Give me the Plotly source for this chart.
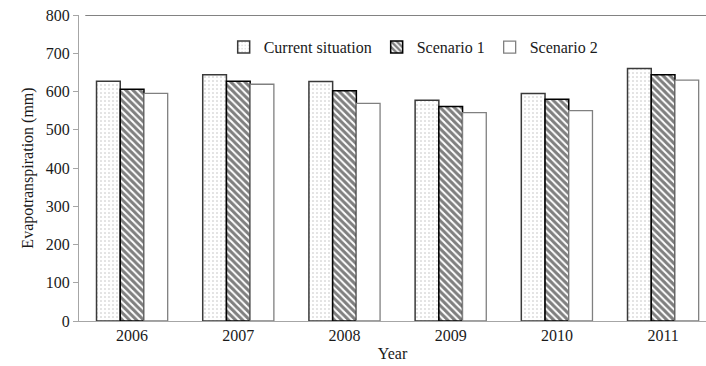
import plotly.graph_objects as go

years = ["2006", "2007", "2008", "2009", "2010", "2011"]
current = [627, 644, 626, 577, 595, 660]
scenario1 = [606, 627, 602, 561, 580, 644]
scenario2 = [595, 619, 569, 545, 550, 630]

FONT = "'Liberation Serif', 'Times New Roman', Tinos, 'DejaVu Serif', serif"

fig = go.Figure()
fig.add_trace(go.Bar(
    x=years, y=current, name="Current situation",
    marker=dict(color="white",
                line=dict(color="#3a3a3a", width=1.5),
                pattern=dict(shape=".", fgcolor="#7a7a7a", bgcolor="white",
                             size=4, solidity=0.12)),
))
fig.add_trace(go.Bar(
    x=years, y=scenario1, name="Scenario 1",
    marker=dict(color="white",
                line=dict(color="#000000", width=1.5),
                pattern=dict(shape="\\", fgcolor="#000000", bgcolor="white",
                             size=5, solidity=0.6)),
))
fig.add_trace(go.Bar(
    x=years, y=scenario2, name="Scenario 2",
    marker=dict(color="white", line=dict(color="#808080", width=1.3)),
))

fig.update_layout(
    width=706, height=366,
    margin=dict(l=79, r=0, t=15, b=45),
    paper_bgcolor="white", plot_bgcolor="white",
    barmode="group", bargap=0.33, bargroupgap=0,
    font=dict(family=FONT, size=16, color="#1a1a1a"),
    showlegend=True,
    legend=dict(orientation="h", x=0.533, xanchor="center", y=0.895, yanchor="middle",
                font=dict(family=FONT, size=16, color="#1a1a1a"),
                bgcolor="rgba(0,0,0,0)", itemwidth=30, traceorder="normal"),
    xaxis=dict(range=[-0.5, 5.404], showline=True, linecolor="#a6a6a6", linewidth=1.2,
               ticks="", showgrid=False, zeroline=False,
               title=dict(text="Year", font=dict(family=FONT, size=16), standoff=4),
               tickfont=dict(family=FONT, size=16)),
    yaxis=dict(range=[0, 800], dtick=100, showline=True, linecolor="#a6a6a6", linewidth=1.2,
               ticks="outside", ticklen=5, tickcolor="#a6a6a6", showgrid=False, zeroline=False,
               title=dict(text="Evapotranspiration (mm)", font=dict(family=FONT, size=16), standoff=8),
               tickfont=dict(family=FONT, size=16)),
    shapes=[dict(type="line", xref="paper", yref="y", x0=0.01, x1=1, y0=800, y1=800,
                 line=dict(color="#595959", width=1.5))],
)

fig.write_html("out.html", config={"displayModeBar": False},
               post_script="document.body.style.margin='0';")
